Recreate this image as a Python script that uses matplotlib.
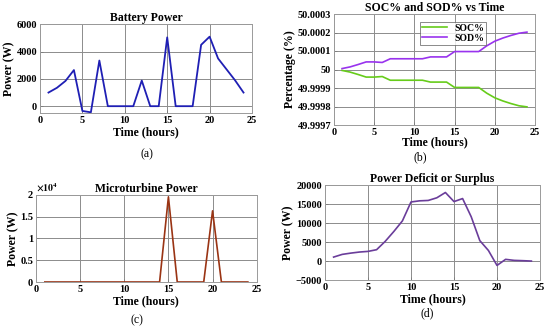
import matplotlib
matplotlib.use("Agg")
import matplotlib.pyplot as plt
from matplotlib.ticker import FuncFormatter

plt.rcParams['font.family'] = ['Liberation Serif', 'DejaVu Serif']
plt.rcParams['font.weight'] = 'bold'
plt.rcParams['axes.labelweight'] = 'bold'
plt.rcParams['axes.titleweight'] = 'bold'
plt.rcParams['mathtext.fontset'] = 'stix'

hours = list(range(1, 25))

battery = [1000, 1350, 1850, 2650, -350, -450, 3350, 0, 0, 0, 0, 1880,
           0, 0, 5050, 0, 0, 0, 4500, 5100, 3500, 2700, 1900, 1000]

sod = [50.000005, 50.000014, 50.000027, 50.000041, 50.000041, 50.000038,
       50.000058, 50.000058, 50.000058, 50.000058, 50.000058, 50.000068,
       50.000068, 50.000068, 50.000097, 50.000097, 50.000097, 50.000097,
       50.000128, 50.000153, 50.000170, 50.000184, 50.000196, 50.000202]
soc = [100 - v for v in sod]

microturbine = [0, 0, 0, 0, 0, 0, 0, 0, 0, 0, 0, 0,
                0, 0, 19500, 0, 0, 0, 0, 16300, 0, 0, 0, 0]

deficit = [1050, 1760, 2100, 2380, 2550, 3000, 5200, 7800, 10600, 15600,
           15900, 16000, 16700, 18100, 15700, 16500, 11700, 5400, 2800,
           -1150, 450, 180, 100, 0]

W, H = 550, 332
fig = plt.figure(figsize=(5.5, 3.32), dpi=100)

TICK = 7.5
LAB = 8.5


def box(l, r, t, b):
    return [l / W, 1 - b / H, (r - l) / W, (b - t) / H]


def style(ax, xpad=1):
    ax.grid(True, color='#8c8c8c', linewidth=0.7)
    ax.set_axisbelow(True)
    for s in ax.spines.values():
        s.set_color('#9a9a9a')
        s.set_linewidth(0.7)
    ax.tick_params(direction='in', length=2, labelsize=TICK, width=0.5, color='#777777', pad=2)
    for lab in ax.get_xticklabels() + ax.get_yticklabels():
        lab.set_fontweight('bold')
    ax.set_xlim(0, 25)
    ax.set_xticks([0, 5, 10, 15, 20, 25])
    ax.set_xlabel('Time (hours)', fontsize=LAB, labelpad=xpad)


# (a) Battery Power
ax1 = fig.add_axes(box(40, 252, 24.4, 113))
ax1.plot(hours, battery, color='#1f1fb4', linewidth=1.3)
ax1.set_ylim(-500, 6000)
ax1.set_yticks([0, 2000, 4000, 6000])
ax1.set_title('Battery Power', fontsize=LAB, pad=2)
ax1.set_ylabel('Power (W)', fontsize=LAB, labelpad=1)
style(ax1)
fig.text(147 / W, 1 - 154 / H, '(a)', ha='center', va='center', fontsize=8.5, fontweight='normal')

# (b) SOC / SOD
ax2 = fig.add_axes(box(334, 535, 14, 125))
ax2.plot(hours, soc, color='#66cc1a', linewidth=1.2, label='SOC%')
ax2.plot(hours, sod, color='#9933ee', linewidth=1.2, label='SOD%')
ax2.set_ylim(49.9997, 50.0003)
ax2.set_yticks([49.9997, 49.9998, 49.9999, 50.0, 50.0001, 50.0002, 50.0003])
ax2.yaxis.set_major_formatter(FuncFormatter(lambda v, p: f"{v:.4f}".rstrip('0').rstrip('.')))
ax2.set_title('SOC% and SOD% vs Time', fontsize=LAB, pad=2)
ax2.set_ylabel('Percentage (%)', fontsize=LAB, labelpad=1)
style(ax2, xpad=0)
leg = ax2.legend(loc='upper left', bbox_to_anchor=(0.43, 0.93), fontsize=7,
                 frameon=True, fancybox=False, edgecolor='#555555', borderpad=0.2,
                 handlelength=2.5, labelspacing=0.1, borderaxespad=0)
leg.get_frame().set_linewidth(0.6)
for t in leg.get_texts():
    t.set_fontweight('bold')
fig.text(420 / W, 1 - 157 / H, '(b)', ha='center', va='center', fontsize=8.5, fontweight='normal')

# (c) Microturbine Power
ax3 = fig.add_axes(box(36, 256.7, 194.7, 282))
ax3.plot(hours, microturbine, color='#9a3414', linewidth=1.2)
ax3.set_ylim(0, 20000)
ax3.set_yticks([0, 5000, 10000, 15000, 20000])
ax3.yaxis.set_major_formatter(FuncFormatter(lambda v, p: f"{v / 1e4:g}"))
ax3.text(0.0, 1.01, r'$\times10^{4}$', transform=ax3.transAxes, ha='left', va='bottom',
         fontsize=7, fontweight='normal')
ax3.set_title('Microturbine Power', fontsize=LAB, pad=2)
ax3.set_ylabel('Power (W)', fontsize=LAB, labelpad=1)
style(ax3)
fig.text(137 / W, 1 - 320 / H, '(c)', ha='center', va='center', fontsize=8.5, fontweight='normal')

# (d) Power Deficit or Surplus
ax4 = fig.add_axes(box(325, 540, 185.3, 280))
ax4.plot(hours, deficit, color='#6a3d9a', linewidth=1.2)
ax4.set_ylim(-5000, 20000)
ax4.set_yticks([-5000, 0, 5000, 10000, 15000, 20000])
ax4.set_title('Power Deficit or Surplus', fontsize=LAB, pad=2)
ax4.set_ylabel('Power (W)', fontsize=LAB, labelpad=1)
style(ax4)
fig.text(427 / W, 1 - 313 / H, '(d)', ha='center', va='center', fontsize=8.5, fontweight='normal')

fig.savefig('out.png', dpi=100)
